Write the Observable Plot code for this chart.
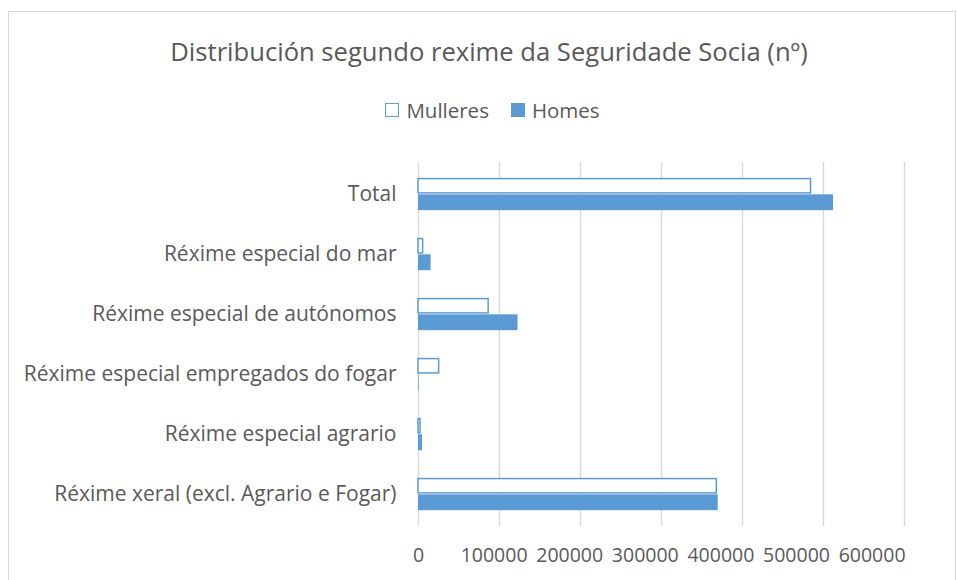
<!DOCTYPE html>
<html>
<head>
<meta charset="utf-8">
<script src="https://cdn.jsdelivr.net/npm/d3@7"></script>
<script src="https://cdn.jsdelivr.net/npm/@observablehq/plot@0.6"></script>
<style>
  body { margin: 0; background: #fff; }
  #wrap { position: relative; width: 957px; height: 580px; overflow: hidden; font-family: "Open Sans", sans-serif; color: #595959; }
  #frame { position: absolute; left: 8px; top: 11px; width: 948px; height: 600px; border: 1px solid #d9d9d9; box-sizing: border-box; }
  #title { position: absolute; left: 0; width: 978px; top: 34px; text-align: center; font-size: 25.6px; line-height: 36px; white-space: nowrap; }
  #legend { position: absolute; left: 0; width: 985px; top: 96px; display: flex; justify-content: center; align-items: center; font-size: 20.5px; line-height: 28px; }
  .sw { display: inline-block; width: 14px; height: 14px; box-sizing: border-box; margin-right: 7px; }
  .item { display: flex; align-items: center; margin: 0 11px; }
  #chart { position: absolute; left: 0; top: 0; }
</style>
</head>
<body>
<div id="wrap">
  <div id="frame"></div>
  <div id="title">Distribución segundo rexime da Seguridade Socia (nº)</div>
  <div id="legend">
    <span class="item"><span class="sw" style="border:1.5px solid #5b9bd5;background:#fff"></span>Mulleres</span>
    <span class="item"><span class="sw" style="background:#5b9bd5"></span>Homes</span>
  </div>
  <div id="chart"></div>
</div>
<script>
const categories = [
  "Total",
  "Réxime especial do mar",
  "Réxime especial de autónomos",
  "Réxime especial empregados do fogar",
  "Réxime especial agrario",
  "Réxime xeral (excl. Agrario e Fogar)"
];
const mulleres = [484600, 5700, 86600, 25500, 2500, 368300];
const homes = [512400, 15600, 122900, 800, 4900, 370000];
const xTicks = [0, 100000, 200000, 300000, 400000, 500000, 600000];

const dataM = categories.map((c, i) => ({category: c, value: mulleres[i]}));
const dataH = categories.map((c, i) => ({category: c, value: homes[i]}));

const marginTop = 162, marginBottom = 54;
const bandH = (580 - marginTop - marginBottom) / categories.length;
const barH = 16.5;

// Excel squeezes the value-axis labels slightly leftwards
const tickLabels = xTicks.map((t, i) =>
  Plot.text([t], {x: d => d, text: d => String(d), frameAnchor: "bottom", dy: 29,
    dx: -5.4 * i, fontSize: 19.5, fill: "#595959", lineAnchor: "middle"})
);

const chart = Plot.plot({
  width: 957,
  height: 580,
  marginTop,
  marginBottom,
  marginLeft: 418,
  marginRight: 53,
  style: {fontFamily: "'Open Sans', sans-serif", fontSize: "21px", color: "#595959", background: "transparent"},
  x: {domain: [0, 600000], label: null, axis: null},
  y: {domain: categories, padding: 0, label: null, axis: null},
  marks: [
    Plot.ruleX(xTicks, {stroke: "#d9d9d9", strokeWidth: 1.4}),
    Plot.axisY({tickSize: 0, tickPadding: 22, fontSize: 21, fill: "#595959", label: null}),
    Plot.barX(dataM, {x: "value", y: "category", fill: "#fff", stroke: "#5b9bd5", strokeWidth: 1.5,
      insetTop: bandH / 2 - barH + 0.75, insetBottom: bandH / 2 + 0.75}),
    Plot.barX(dataH, {x: "value", y: "category", fill: "#5b9bd5",
      insetTop: bandH / 2, insetBottom: bandH / 2 - barH}),
    ...tickLabels
  ]
});
document.getElementById("chart").appendChild(chart);
</script>
</body>
</html>
